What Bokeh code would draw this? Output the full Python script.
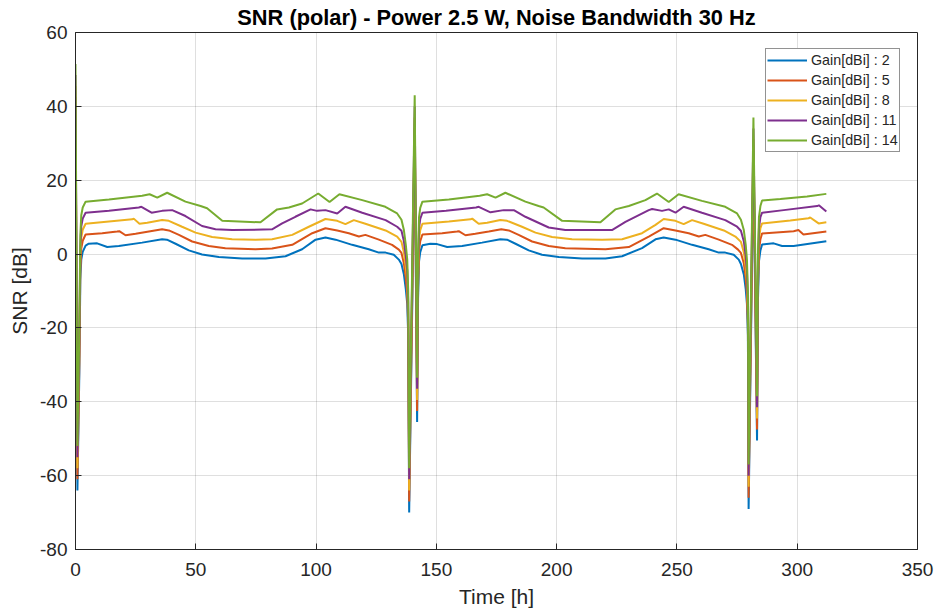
from bokeh.plotting import figure
from bokeh.models import Range1d, FixedTicker, Legend, LegendItem
from bokeh.embed import file_html
from bokeh.resources import INLINE

# ---------------- data ----------------
gains = [2, 5, 8, 11, 14]
legend_labels = ["Gain[dBi] : 2", "Gain[dBi] : 5", "Gain[dBi] : 8", "Gain[dBi] : 11", "Gain[dBi] : 14"]

t_g2 = [0, 0.8, 1.6, 2.0, 2.4, 3.0, 4.2, 5.5, 9.0, 13.2, 18.0, 27.7, 36.0, 38.0, 41.6, 47.1, 52.6, 59.6,
        69.3, 79.0, 87.3, 94.2, 99.8, 103.9, 108.1, 115.0, 121.9, 126.1, 128.9, 132.3, 134.4, 135.5,
        136.5, 137.3, 137.9, 138.3, 138.7, 141.0, 142.0, 142.4, 142.8, 143.3, 144.2, 147.5, 150.3,
        154.5, 160.7, 169.0, 176.6, 179.4, 182.9, 188.4, 193.9, 200.9, 210.6, 220.3, 227.2, 235.5,
        241.1, 244.5, 249.4, 256.3, 263.2, 267.4, 270.1, 273.6, 275.7, 276.6, 277.8, 278.6, 279.1,
        279.5, 279.8, 281.8, 283.3, 283.7, 284.1, 284.7, 285.4, 290.2, 293.7, 298.5, 312.1]
snr_g2 = [39.5, -64, -32, -7, -1.5, 0.6, 2.3, 2.8, 2.9, 1.9, 2.2, 3.1, 4.0, 3.9, 2.8, 1.0, -0.1, -0.8,
          -1.2, -1.2, -0.6, 1.3, 3.9, 4.5, 3.9, 2.5, 1.3, 0.4, 0.4, -0.2, -1.5, -2.7,
          -5.5, -9.5, -13.5, -22, -70, 31, -45.5, -12, -2, 0.5, 2.4, 2.8, 2.7,
          1.9, 2.2, 3.1, 4.0, 3.9, 2.8, 1.0, -0.2, -0.8, -1.2, -1.2, -0.6, 1.6,
          4.0, 4.5, 3.9, 2.5, 1.3, 0.4, 0.4, -0.2, -1.5, -2.7, -5.5, -9.5, -13.5,
          -22, -69, 25, -50.5, -12, -2, 1, 2.6, 2.9, 2.2, 2.2, 3.5]

t_g5 = [0, 0.8, 1.6, 2.0, 2.4, 3.0, 4.2, 11.1, 17.3, 18.2, 20.8, 25.0, 30.5, 36.0, 38.8, 43.0, 48.5,
        55.4, 62.3, 74.8, 81.7, 90.1, 98.4, 103.9, 108.8, 113.6, 117.8, 120.5, 126.1, 131.6, 134.4,
        135.5, 136.5, 137.3, 137.9, 138.3, 138.7, 141.0, 142.0, 142.4, 142.8, 143.3, 144.2, 152.4,
        158.6, 159.3, 162.1, 166.2, 171.8, 177.0, 180.1, 184.2, 189.8, 196.7, 203.6, 220.3, 230.0,
        238.3, 244.5, 249.4, 254.9, 259.1, 261.8, 267.4, 272.9, 275.4, 276.6, 277.8, 278.6, 279.1,
        279.5, 279.8, 281.8, 283.3, 283.7, 284.1, 284.7, 285.4, 298.5, 300.5, 302.6, 312.1]
snr_g5 = [42.5, -61, -29, -4, 1.5, 3.6, 5.3, 5.65, 6.1, 6.2, 5.1, 5.5, 6.1, 6.7, 6.4, 5.2, 3.4,
          2.2, 1.6, 1.3, 1.5, 2.5, 5.65, 7.0, 6.4, 5.65, 4.75, 5.2, 3.9, 2.5, 1.2,
          0.3, -2.5, -6.5, -10.5, -19, -67, 34, -42.5, -9, 1, 3.5, 5.3, 5.65,
          6.1, 6.2, 5.1, 5.5, 6.1, 6.7, 6.4, 5.2, 3.4, 2.2, 1.6, 1.3, 1.9,
          4.75, 7.0, 6.4, 5.65, 4.75, 5.2, 3.9, 2.5, 1.2, 0.3, -2.5, -6.5, -10.5,
          -19, -66, 28, -47.5, -9, 1, 4, 5.6, 6.2, 6.5, 5.3, 6.1]

t_g8 = [0, 0.8, 1.6, 2.0, 2.4, 3.0, 4.2, 13.9, 23.6, 24.2, 26.6, 29.8, 36.0, 38.8, 44.3, 49.9, 56.8,
        65.1, 74.8, 81.7, 90.1, 97.0, 103.9, 108.8, 112.2, 115.7, 120.5, 128.9, 133.7, 135.5, 136.5,
        137.3, 137.9, 138.3, 138.7, 141.0, 142.0, 142.4, 142.8, 143.3, 144.2, 155.2, 164.2, 164.9,
        167.6, 171.1, 176.6, 179.4, 185.6, 191.2, 198.1, 206.4, 218.9, 227.2, 235.5, 241.1, 244.5,
        249.4, 252.8, 256.3, 261.1, 269.5, 274.3, 276.6, 277.8, 278.6, 279.1, 279.5, 279.8, 281.8,
        283.3, 283.7, 284.1, 284.7, 285.4, 297.1, 304.7, 305.4, 308.9, 312.1]
snr_g8 = [45.5, -58, -26, -1, 4.5, 6.6, 8.2, 8.8, 9.4, 9.6, 8.2, 8.5, 9.2, 9.0, 7.4, 5.8, 4.6,
          4.0, 3.9, 4.0, 5.2, 7.4, 9.5, 9.0, 8.1, 9.2, 8.2, 6.4, 4.75, 3.3, 0.5,
          -3.5, -7.5, -16, -64, 37, -39.5, -6, 4, 6.5, 8.2, 8.8, 9.4, 9.6,
          8.2, 8.5, 9.2, 9.0, 7.4, 5.8, 4.6, 4.0, 3.9, 4.0, 5.65, 7.9, 9.5,
          9.0, 8.1, 9.2, 8.2, 6.4, 4.75, 3.3, 0.5, -3.5, -7.5, -16, -63, 31,
          -44.5, -6, 4, 7, 8.3, 9.1, 9.7, 9.9, 8.3, 8.6]

t_g11 = [0, 0.8, 1.6, 2.0, 2.4, 3.0, 4.2, 13.9, 26.3, 27.4, 31.6, 36.0, 40.2, 45.7, 52.6, 58.2, 65.1,
         81.7, 85.9, 91.4, 97.7, 100.4, 103.9, 108.8, 112.2, 119.2, 128.9, 133.7, 135.5, 136.5, 137.3,
         137.9, 138.3, 138.7, 141.0, 142.0, 142.4, 142.8, 143.3, 144.2, 154.0, 166.5, 167.6, 172.5,
         178.0, 182.2, 187.0, 196.7, 203.6, 223.0, 228.6, 238.3, 239.7, 243.8, 246.6, 249.4, 252.8,
         260.4, 270.1, 275.0, 276.6, 277.8, 278.6, 279.1, 279.5, 279.8, 281.8, 283.3, 283.7, 284.1,
         284.7, 285.4, 294.4, 308.3, 309.0, 312.1]
snr_g11 = [48.5, -55, -23, 2, 7.5, 9.6, 11.2, 11.7, 12.6, 12.8, 11.2, 11.7, 11.9, 10.3, 7.6, 6.7, 6.5,
           6.7, 8.3, 10.1, 12.1, 11.7, 11.9, 11.0, 12.8, 11.2, 9.2, 7.4, 6.3, 3.5, -0.5,
           -4.5, -13, -61, 40, -36.5, -3, 7, 9.5, 11.2, 11.7, 12.6, 12.8, 11.3,
           11.9, 11.9, 10.1, 7.2, 6.5, 6.5, 8.7, 11.9, 12.2, 11.7, 12.1, 11.2, 12.8,
           11.2, 9.2, 7.4, 6.3, 3.5, -0.5, -4.5, -13, -60, 34, -41.5, -3, 7,
           10, 11.2, 11.9, 13.0, 13.2, 11.5]

t_g14 = [0, 0.8, 1.6, 2.0, 2.4, 3.0, 4.2, 13.9, 27.7, 30.8, 34.0, 38.1, 45.7, 52.0, 54.7, 61.0, 76.9,
         83.8, 88.7, 94.2, 100.9, 105.6, 109.7, 119.2, 128.8, 133.7, 135.5, 136.5, 137.3, 137.9,
         138.3, 138.7, 141.0, 142.0, 142.4, 142.8, 143.3, 144.2, 155.2, 168.0, 171.1, 174.6, 178.7,
         187.0, 192.5, 194.6, 202.3, 218.2, 224.4, 230.0, 236.9, 241.7, 246.6, 250.7, 260.4, 270.1,
         275.0, 276.6, 277.8, 278.6, 279.1, 279.5, 279.8, 281.8, 283.3, 283.7, 284.1, 284.7, 285.4,
         293.0, 304.1, 312.1]
snr_g14 = [51.5, -52, -20, 5, 10.5, 12.6, 14.2, 14.8, 15.8, 16.2, 15.3, 16.6, 14.2, 13.0, 12.4, 9.0, 8.6,
           12.1, 12.6, 13.7, 16.4, 14.1, 16.2, 14.6, 12.8, 11.0, 9.3, 6.5, 2.5, -1.5,
           -10, -58, 43, -33.5, 0, 10, 12.5, 14.2, 14.8, 15.8, 16.2, 15.3, 16.6,
           14.2, 13.0, 12.6, 9.0, 8.6, 12.1, 13.0, 14.6, 16.4, 14.1, 16.2, 14.4, 12.8,
           11.0, 9.3, 6.5, 2.5, -1.5, -10, -57, 37, -38.5, 0, 10, 13, 14.5,
           14.9, 15.6, 16.3]

x_ticks = [0, 50, 100, 150, 200, 250, 300, 350]
y_ticks = [-80, -60, -40, -20, 0, 20, 40, 60]
y_tick_labels = ["-80", "-60", "-40", "-20", "0", "20", "40", "60"]

series_t = [t_g2, t_g5, t_g8, t_g11, t_g14]
series_y = [snr_g2, snr_g5, snr_g8, snr_g11, snr_g14]
colors = ["#0072BD", "#D95319", "#EDB120", "#7E2F8E", "#77AC30"]

# ---------------- figure ----------------
FONT = "Liberation Sans"
AX = "#262626"

p = figure(width=939, height=616, output_backend="svg", toolbar_location=None,
           x_range=Range1d(0, 350), y_range=Range1d(-80, 60),
           min_border_left=75, min_border_right=22, min_border_top=32, min_border_bottom=67,
           title="SNR (polar) - Power 2.5 W, Noise Bandwidth 30 Hz")

p.title.text_font = FONT
p.title.text_font_size = "21.8px"
p.title.text_font_style = "bold"
p.title.text_color = "#000000"
p.title.align = "center"
p.title.offset = 0
p.title.standoff = 5

p.outline_line_color = AX
p.outline_line_width = 1
p.background_fill_color = "white"
p.border_fill_color = "white"

for ax in (p.xaxis[0], p.yaxis[0]):
    ax.axis_line_color = AX
    ax.major_tick_line_color = AX
    ax.major_tick_in = 6
    ax.major_tick_out = 0
    ax.minor_tick_line_color = None
    ax.major_label_text_font = FONT
    ax.major_label_text_font_size = "19px"
    ax.major_label_text_color = AX
    ax.axis_label_text_font = FONT
    ax.axis_label_text_font_size = "21px"
    ax.axis_label_text_font_style = "normal"
    ax.axis_label_text_color = AX

p.xaxis.ticker = FixedTicker(ticks=x_ticks)
p.yaxis.ticker = FixedTicker(ticks=y_ticks)
p.yaxis.major_label_overrides = dict(zip(y_ticks, y_tick_labels))
p.xaxis.axis_label = "Time [h]"
p.yaxis.axis_label = "SNR [dB]"
p.xaxis.major_label_standoff = 13
p.yaxis.major_label_standoff = 8
p.xaxis.axis_label_standoff = 6
p.yaxis.axis_label_standoff = 6

p.grid.grid_line_color = AX
p.grid.grid_line_alpha = 0.15
p.grid.grid_line_width = 1

items = []
for tt, yy, c, lab in zip(series_t, series_y, colors, legend_labels):
    r = p.line(tt, yy, line_color=c, line_width=2)
    items.append(LegendItem(label=lab, renderers=[r]))

legend = Legend(items=items, location=(690, 397))
legend.label_text_font = FONT
legend.label_text_font_size = "14.3px"
legend.label_text_color = AX
legend.border_line_color = AX
legend.border_line_width = 1
legend.background_fill_color = "white"
legend.background_fill_alpha = 1
legend.padding = 1
legend.spacing = 0
legend.margin = 0
legend.glyph_width = 40
legend.glyph_height = 20
legend.label_height = 20
legend.label_standoff = 4
p.add_layout(legend)

open("out.html", "w").write(file_html(p, INLINE))
